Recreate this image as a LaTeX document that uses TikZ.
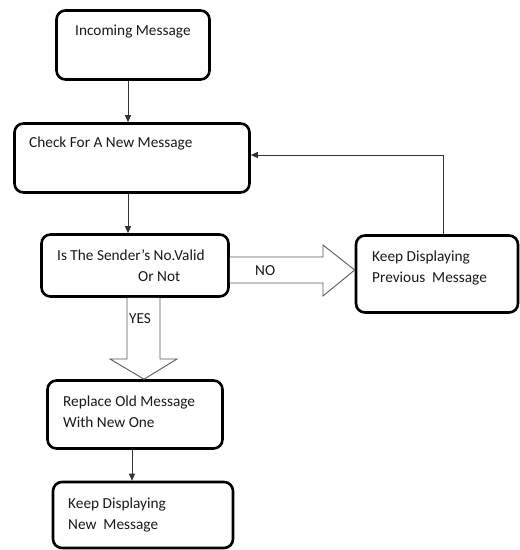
\documentclass[tikz,border=0pt]{standalone}
\usepackage{fontspec}
\setmainfont{Carlito}
\usetikzlibrary{calc,arrows.meta}
\tikzset{
  box/.style={draw=black, line width=2.6pt, rounded corners=9pt, inner sep=0pt, fill=white},
  txt/.style={anchor=base west, inner sep=0pt, font=\fontsize{15.3}{18}\selectfont, text=black!90},
  conn/.style={draw=black!80, line width=0.9pt, -{Triangle[length=7pt,width=6pt]}},
  blockarrow/.style={draw=black!65, line width=0.9pt, fill=white, line join=miter},
}
\begin{document}
\begin{tikzpicture}[x=1pt,y=-1pt]
\useasboundingbox (0,0) rectangle (520,550);
% boxes
\node[box, minimum width=153pt, minimum height=69pt] (b1) at (133,45) {};
\node[box, minimum width=235pt, minimum height=69pt] (b2) at (132,158) {};
\node[box, minimum width=187pt, minimum height=62pt] (b3) at (135,265.5) {};
\node[box, minimum width=162pt, minimum height=77pt] (b4) at (437,274) {};
\node[box, minimum width=175pt, minimum height=68pt] (b5) at (135,414.5) {};
\node[box, minimum width=180pt, minimum height=66pt] (b6) at (143,515) {};
% texts
\node[txt] (t1) at (75,35) {Incoming Message};
\node[txt] (t2) at (29,147) {Check For A New Message};
\node[txt] (t3a) at (57,260) {Is The Sender’s No.Valid};
\node[txt] (t3b) at (138,281) {Or Not};
\node[txt] (t4a) at (372,261) {Keep Displaying};
\node[txt] (t4b) at (372,282) {Previous\ \ Message};
\node[txt] (t5a) at (63,406) {Replace Old Message};
\node[txt] (t5b) at (63,427) {With New One};
\node[txt] (t6a) at (68,508) {Keep Displaying};
\node[txt] (t6b) at (68,529) {New\ \ Message};
% simple connectors
\draw[conn] (b1.south -| 128,0) -- (b2.north -| 128,0);
\draw[conn] (b2.south -| 128,0) -- (b3.north -| 128,0);
\draw[conn] (b5.south -| 132,0) -- (b6.north -| 132,0);
\coordinate (fb) at ($(b4.north)+(6,0)$);
\draw[conn] (fb) |- ($(b2.east)+(0,-3)$);
% NO block arrow
\draw[blockarrow] (b3.east |- 0,257) -- (323,257) -- (323,245) -- (b4.west |- 0,270) -- (323,296) -- (323,283) -- (b3.east |- 0,283);
\node[txt] (no) at (255,275) {NO};
% YES block arrow
\draw[blockarrow] (127,0 |- b3.south) -- (127,359) -- (110,359) -- (144,0 |- b5.north) -- (177,359) -- (160,359) -- (160,0 |- b3.south);
\node[txt] (yes) at (129,323) {YES};
\end{tikzpicture}
\end{document}
